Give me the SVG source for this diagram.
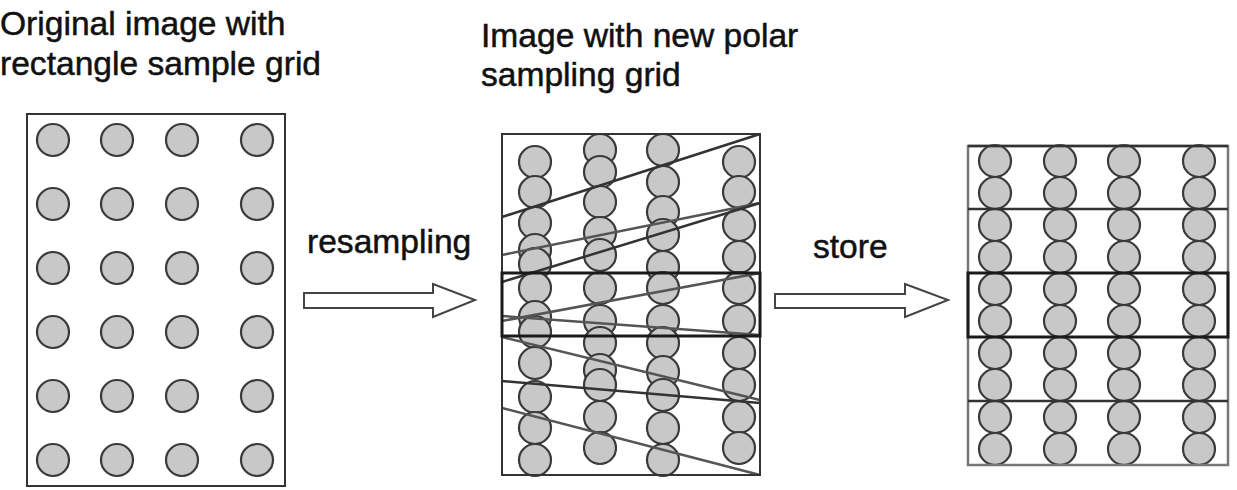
<svg xmlns="http://www.w3.org/2000/svg" width="1237" height="490" viewBox="0 0 1237 490">
<style>
text{font-family:"Liberation Sans",Arial,sans-serif;font-size:33.6px;fill:#111;stroke:#111;stroke-width:0.5}
.c{fill:#c8c8c8;stroke:#3a3a3a;stroke-width:2.2}
.frame{fill:none;stroke:#333;stroke-width:2}
.band{fill:none;stroke:#1a1a1a;stroke-width:3}
.ln{stroke:#555;stroke-width:2.5;fill:none}
.lnd{stroke:#333;stroke-width:2.5;fill:none}
.arrow{fill:#fff;stroke:#444;stroke-width:2;stroke-linejoin:miter}
</style>
<rect width="1237" height="490" fill="#fff"/>

<g id="title-original">
<text x="0" y="35">Original image with</text>
<text x="0" y="75">rectangle sample grid</text>
</g>
<g id="title-polar">
<text x="481" y="47">Image with new polar</text>
<text x="481" y="86">sampling grid</text>
</g>

<g id="original-grid">
<rect class="frame" x="27" y="114" width="258" height="372"/>
<g class="c">
<circle cx="53" cy="140" r="16"/><circle cx="117" cy="140" r="16"/><circle cx="182" cy="140" r="16"/><circle cx="257" cy="140" r="16"/>
<circle cx="53" cy="204" r="16"/><circle cx="117" cy="204" r="16"/><circle cx="182" cy="204" r="16"/><circle cx="257" cy="204" r="16"/>
<circle cx="53" cy="268" r="16"/><circle cx="117" cy="268" r="16"/><circle cx="182" cy="268" r="16"/><circle cx="257" cy="268" r="16"/>
<circle cx="53" cy="332" r="16"/><circle cx="117" cy="332" r="16"/><circle cx="182" cy="332" r="16"/><circle cx="257" cy="332" r="16"/>
<circle cx="53" cy="396" r="16"/><circle cx="117" cy="396" r="16"/><circle cx="182" cy="396" r="16"/><circle cx="257" cy="396" r="16"/>
<circle cx="53" cy="460" r="16"/><circle cx="117" cy="460" r="16"/><circle cx="182" cy="460" r="16"/><circle cx="257" cy="460" r="16"/>
</g>
</g>

<g id="polar-grid">
<g class="c">
<circle cx="535" cy="162" r="16"/><circle cx="535" cy="192" r="16"/><circle cx="535" cy="223" r="16"/><circle cx="535" cy="250" r="16"/><circle cx="535" cy="264" r="16"/><circle cx="535" cy="288" r="16"/><circle cx="535" cy="317" r="16"/><circle cx="535" cy="332" r="16"/><circle cx="535" cy="363" r="16"/><circle cx="535" cy="397" r="16"/><circle cx="535" cy="428" r="16"/><circle cx="535" cy="460" r="16"/>
<circle cx="600" cy="150" r="16"/><circle cx="600" cy="172" r="16"/><circle cx="600" cy="202" r="16"/><circle cx="600" cy="233" r="16"/><circle cx="600" cy="255" r="16"/><circle cx="600" cy="288" r="16"/><circle cx="600" cy="321" r="16"/><circle cx="600" cy="343" r="16"/><circle cx="600" cy="370" r="16"/><circle cx="600" cy="385" r="16"/><circle cx="600" cy="417" r="16"/><circle cx="600" cy="448" r="16"/>
<circle cx="663" cy="150" r="16"/><circle cx="663" cy="182" r="16"/><circle cx="663" cy="212" r="16"/><circle cx="663" cy="235" r="16"/><circle cx="663" cy="267" r="16"/><circle cx="663" cy="288" r="16"/><circle cx="663" cy="321" r="16"/><circle cx="663" cy="343" r="16"/><circle cx="663" cy="372" r="16"/><circle cx="663" cy="395" r="16"/><circle cx="663" cy="428" r="16"/><circle cx="663" cy="460" r="16"/>
<circle cx="739" cy="162" r="16"/><circle cx="739" cy="192" r="16"/><circle cx="739" cy="225" r="16"/><circle cx="739" cy="257" r="16"/><circle cx="739" cy="288" r="16"/><circle cx="739" cy="321" r="16"/><circle cx="739" cy="353" r="16"/><circle cx="739" cy="385" r="16"/><circle cx="739" cy="417" r="16"/><circle cx="739" cy="448" r="16"/>
</g>
<line class="lnd" x1="502" y1="217" x2="760" y2="134"/>
<line class="ln" x1="502" y1="255" x2="760" y2="203"/>
<line class="lnd" x1="502" y1="282" x2="760" y2="203"/>
<line class="ln" x1="502" y1="321" x2="760" y2="273"/>
<line class="ln" x1="502" y1="316" x2="760" y2="335"/>
<line class="ln" x1="502" y1="337" x2="760" y2="400"/>
<line class="lnd" x1="502" y1="381" x2="760" y2="403"/>
<line class="ln" x1="502" y1="408" x2="760" y2="475"/>
<rect class="frame" x="502" y="134" width="258" height="341"/>
<rect class="band" x="502" y="273" width="258" height="63"/>
</g>

<g id="stored-grid">
<g class="c">
<circle cx="995" cy="161" r="16"/><circle cx="1060" cy="161" r="16"/><circle cx="1124" cy="161" r="16"/><circle cx="1199" cy="161" r="16"/>
<circle cx="995" cy="193" r="16"/><circle cx="1060" cy="193" r="16"/><circle cx="1124" cy="193" r="16"/><circle cx="1199" cy="193" r="16"/>
<circle cx="995" cy="225" r="16"/><circle cx="1060" cy="225" r="16"/><circle cx="1124" cy="225" r="16"/><circle cx="1199" cy="225" r="16"/>
<circle cx="995" cy="257" r="16"/><circle cx="1060" cy="257" r="16"/><circle cx="1124" cy="257" r="16"/><circle cx="1199" cy="257" r="16"/>
<circle cx="995" cy="289" r="16"/><circle cx="1060" cy="289" r="16"/><circle cx="1124" cy="289" r="16"/><circle cx="1199" cy="289" r="16"/>
<circle cx="995" cy="321" r="16"/><circle cx="1060" cy="321" r="16"/><circle cx="1124" cy="321" r="16"/><circle cx="1199" cy="321" r="16"/>
<circle cx="995" cy="353" r="16"/><circle cx="1060" cy="353" r="16"/><circle cx="1124" cy="353" r="16"/><circle cx="1199" cy="353" r="16"/>
<circle cx="995" cy="385" r="16"/><circle cx="1060" cy="385" r="16"/><circle cx="1124" cy="385" r="16"/><circle cx="1199" cy="385" r="16"/>
<circle cx="995" cy="417" r="16"/><circle cx="1060" cy="417" r="16"/><circle cx="1124" cy="417" r="16"/><circle cx="1199" cy="417" r="16"/>
<circle cx="995" cy="449" r="16"/><circle cx="1060" cy="449" r="16"/><circle cx="1124" cy="449" r="16"/><circle cx="1199" cy="449" r="16"/>
</g>
<rect x="968" y="146" width="260" height="319" fill="none" stroke="#777" stroke-width="2.5"/>
<line class="lnd" x1="968" y1="146" x2="1228" y2="146"/>
<line class="lnd" x1="968" y1="209" x2="1228" y2="209"/>
<line class="lnd" x1="968" y1="401" x2="1228" y2="401"/>
<rect class="band" x="968" y="273" width="260" height="64"/>
</g>

<g id="connectors">
<path class="arrow" d="M304,293 H433 V284 L475,300 L433,317 V308 H304 Z"/>
<text x="307" y="253">resampling</text>
<path class="arrow" d="M775,294 H905 V284 L948,300 L905,317 V308 H775 Z"/>
<text x="813" y="258">store</text>
</g>
</svg>
